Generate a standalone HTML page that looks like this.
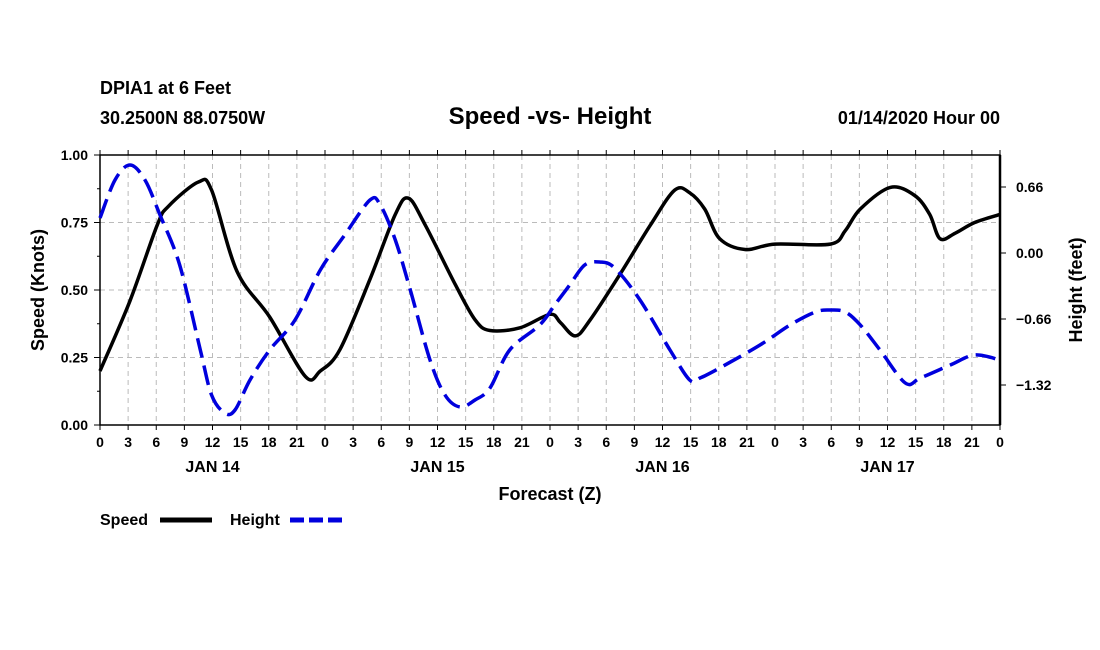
<!DOCTYPE html>
<html><head><meta charset="utf-8"><style>
body{margin:0;background:#fff;}
svg{display:block;font-family:"Liberation Sans",sans-serif;font-weight:bold;}
</style></head><body>
<svg id="chart" width="1100" height="650">
<text x="100" y="94" font-size="18">DPIA1 at 6 Feet</text>
<text x="100" y="124" font-size="18">30.2500N 88.0750W</text>
<text x="550" y="124" font-size="24" text-anchor="middle">Speed -vs- Height</text>
<text x="1000" y="124" font-size="18" text-anchor="end">01/14/2020 Hour 00</text>
<g id="grid"></g><g id="axes"></g><g id="series"></g>
<text x="550" y="500" font-size="18" text-anchor="middle">Forecast (Z)</text>
<text transform="translate(44,290) rotate(-90)" font-size="18" text-anchor="middle">Speed (Knots)</text>
<text transform="translate(1082,290) rotate(-90)" font-size="18" text-anchor="middle">Height (feet)</text>
<g>
<text x="100" y="525" font-size="16">Speed</text>
<line x1="160" y1="520" x2="212" y2="520" stroke="#000" stroke-width="5"/>
<text x="230" y="525" font-size="16">Height</text>
<line x1="290" y1="520" x2="342" y2="520" stroke="#0000dd" stroke-width="5" stroke-dasharray="14,5"/>
</g>
</svg>
<script>
const speedHours=[0,3.2,6.1,7.3,10.5,11.9,14.6,18.1,21.9,23.5,25.6,28.8,31.5,32.9,34.7,37.9,40.0,41.6,44.8,48.0,49.1,50.7,52.3,55.5,58.7,61.3,62.9,64.5,66.1,68.8,72.0,77.9,79.5,81.1,84.3,86.9,88.5,89.6,91.2,93.3,96];
const speedValues=[0.20,0.46,0.74,0.81,0.90,0.87,0.57,0.40,0.18,0.20,0.28,0.54,0.78,0.84,0.74,0.52,0.39,0.35,0.36,0.41,0.38,0.33,0.39,0.56,0.74,0.87,0.86,0.80,0.69,0.65,0.67,0.67,0.72,0.80,0.88,0.85,0.78,0.69,0.71,0.75,0.78];
const heightHours=[0,1.6,3.2,4.8,6.4,8.5,10.7,11.9,13.3,14.4,16.0,18.1,20.8,23.5,26.1,28.8,29.9,31.5,33.1,35.2,36.8,38.4,40.0,41.6,43.7,46.9,48.5,50.1,51.7,53.3,54.9,57.6,60.8,62.9,64.0,66.1,70.4,73.6,76.3,77.9,79.5,81.1,83.2,85.9,87.5,90.7,93.3,96];
const heightValues=[0.35,0.73,0.88,0.73,0.38,-0.12,-0.97,-1.42,-1.60,-1.57,-1.27,-0.97,-0.67,-0.17,0.18,0.53,0.48,0.13,-0.37,-1.07,-1.42,-1.54,-1.47,-1.35,-0.97,-0.72,-0.52,-0.32,-0.12,-0.09,-0.15,-0.47,-0.97,-1.27,-1.25,-1.15,-0.92,-0.72,-0.59,-0.57,-0.59,-0.72,-0.97,-1.30,-1.25,-1.12,-1.02,-1.07];
const xTickLabels=["0","3","6","9","12","15","18","21"];
const dayLabels=["JAN 14","JAN 15","JAN 16","JAN 17"];
const leftTicks=[0,0.25,0.5,0.75,1.0];
const rightTicks=[0.66,0,-0.66,-1.32];
const NS="http://www.w3.org/2000/svg";
const X0=100,X1=1000,Y0=155,Y1=425;
const xs=h=>X0+h*(X1-X0)/96;
const yL=v=>Y1-v*(Y1-Y0);
const yR=v=>253-v*100;
function mk(tag,attrs,parent){const e=document.createElementNS(NS,tag);for(const k in attrs)e.setAttribute(k,attrs[k]);parent.appendChild(e);return e;}
const grid=document.getElementById('grid'),axes=document.getElementById('axes'),series=document.getElementById('series');
for(let h=3;h<96;h+=3){const l=mk('line',{x1:xs(h),x2:xs(h),y1:Y0,y2:Y1,stroke:'#bbb','stroke-dasharray':'5,4'},grid);

}
[0.25,0.5,0.75].forEach(v=>{const l=mk('line',{x1:X0,x2:X1,y1:yL(v),y2:yL(v),stroke:'#bbb','stroke-dasharray':'5,4'},grid);

});
const frame=mk('rect',{x:X0,y:Y0,width:X1-X0,height:Y1-Y0,fill:'none',stroke:'#000','stroke-width':1.5},axes);


mk('line',{x1:X1,x2:X1,y1:Y0,y2:Y1,stroke:'#000','stroke-width':2.5},axes);
for(let i=0;i<=32;i++){const h=i*3,x=xs(h);
mk('line',{x1:x,x2:x,y1:Y1,y2:Y1+5,stroke:'#000'},axes);
mk('line',{x1:x,x2:x,y1:Y0,y2:Y0-5,stroke:'#000'},axes);
const t=mk('text',{x:x,y:Y1+22,'font-size':14,'text-anchor':'middle'},axes);t.textContent=xTickLabels[i%8];

}
dayLabels.forEach((d,i)=>{const t=mk('text',{x:xs(12+24*i),y:Y1+47,'font-size':16,'text-anchor':'middle'},axes);t.textContent=d;

});
leftTicks.forEach(v=>{mk('line',{x1:X0-6,x2:X0,y1:yL(v),y2:yL(v),stroke:'#000'},axes);
const t=mk('text',{x:X0-12,y:yL(v)+5,'font-size':14,'text-anchor':'end'},axes);t.textContent=v.toFixed(2);

});
for(let v=0.125;v<1;v+=0.25)mk('line',{x1:X0-3,x2:X0,y1:yL(v),y2:yL(v),stroke:'#000'},axes);
rightTicks.forEach(v=>{mk('line',{x1:X1,x2:X1+6,y1:yR(v),y2:yR(v),stroke:'#000'},axes);
const t=mk('text',{x:X1+16,y:yR(v)+5,'font-size':14},axes);t.textContent=(v<0?'\u2212':'')+Math.abs(v).toFixed(2);

});
function smooth(pts){let d='M'+pts[0][0]+','+pts[0][1];
for(let i=0;i<pts.length-1;i++){const p0=pts[i-1]||pts[i],p1=pts[i],p2=pts[i+1],p3=pts[i+2]||p2;
const c1=[p1[0]+(p2[0]-p0[0])/6,p1[1]+(p2[1]-p0[1])/6],c2=[p2[0]-(p3[0]-p1[0])/6,p2[1]-(p3[1]-p1[1])/6];
d+=' C'+c1+' '+c2+' '+p2;}return d;}
const sp=mk('path',{d:smooth(speedHours.map((h,i)=>[xs(h),yL(speedValues[i])])),fill:'none',stroke:'#000','stroke-width':3.5},series);


const hp=mk('path',{d:smooth(heightHours.map((h,i)=>[xs(h),yR(heightValues[i])])),fill:'none',stroke:'#0000dd','stroke-width':3.5,'stroke-dasharray':'20,8'},series);


</script>
</body></html>
